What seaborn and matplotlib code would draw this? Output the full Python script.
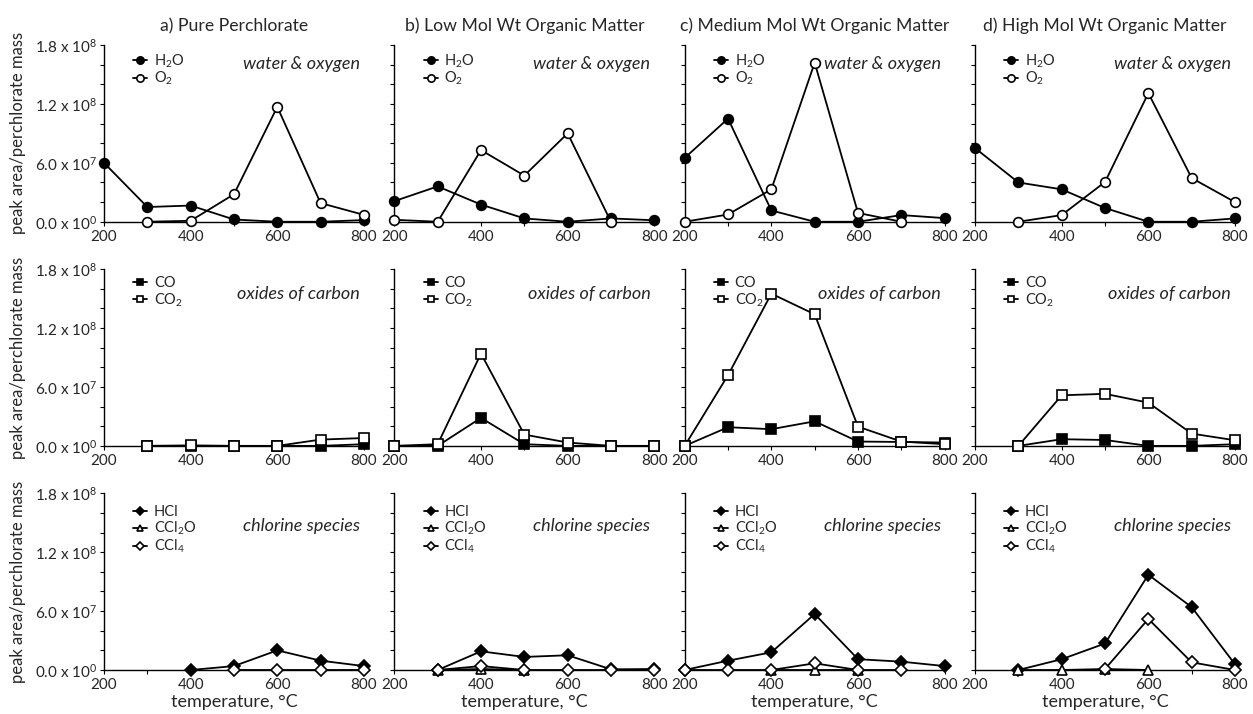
import numpy as np
import matplotlib
matplotlib.use("Agg")
import matplotlib.pyplot as plt
import seaborn as sns
from matplotlib.ticker import FixedLocator, FixedFormatter, MultipleLocator

nan = np.nan
temps = [200, 300, 400, 500, 600, 700, 800]
panel_titles = ["a) Pure Perchlorate", "b) Low Mol Wt Organic Matter",
                "c) Medium Mol Wt Organic Matter", "d) High Mol Wt Organic Matter"]
row_titles = ["water & oxygen", "oxides of carbon", "chlorine species"]
ytick_values = [0, 6.0e7, 1.2e8, 1.8e8]
ytick_labels = ["0.0 x 10$^{0}$", "6.0 x 10$^{7}$", "1.2 x 10$^{8}$", "1.8 x 10$^{8}$"]
xtick_values = [200, 400, 600, 800]
xtick_labels = ["200", "400", "600", "800"]
ylabel_text = "peak area/perchlorate mass"
xlabel_text = "temperature, °C"

# row 1: water & oxygen
h2o_a = [6.0e7, 1.5e7, 1.65e7, 2.3e6, 0, 0, 1.7e6]
o2_a = [nan, 0, 1.0e6, 2.8e7, 1.17e8, 1.9e7, 7.0e6]
h2o_b = [2.1e7, 3.6e7, 1.75e7, 3.4e6, 0, 3.4e6, 1.5e6]
o2_b = [2.0e6, 0, 7.3e7, 4.7e7, 9.0e7, 0, nan]
h2o_c = [6.5e7, 1.05e8, 1.15e7, 0, 0, 6.8e6, 3.7e6]
o2_c = [0, 7.4e6, 3.3e7, 1.62e8, 9.0e6, 0, nan]
h2o_d = [7.5e7, 4.0e7, 3.3e7, 1.4e7, 0, 0, 3.4e6]
o2_d = [nan, 0, 6.8e6, 4.05e7, 1.31e8, 4.45e7, 2.0e7]

# row 2: oxides of carbon
co_a = [nan, 0, 0, 0, 0, 0, 1.7e6]
co2_a = [nan, 0, 5.0e5, 0, 0, 6.4e6, 8.0e6]
co_b = [0, 0, 2.85e7, 1.7e6, 0, 0, 0]
co2_b = [0, 1.7e6, 9.4e7, 1.15e7, 3.4e6, 0, 0]
co_c = [0, 1.9e7, 1.7e7, 2.5e7, 4.4e6, 4.0e6, 3.4e6]
co2_c = [0, 7.2e7, 1.55e8, 1.34e8, 1.96e7, 4.4e6, 1.7e6]
co_d = [nan, 0, 6.8e6, 6.0e6, 0, 0, 1.7e6]
co2_d = [nan, 0, 5.15e7, 5.3e7, 4.4e7, 1.25e7, 5.7e6]

# row 3: chlorine species
hcl_a = [nan, nan, 0, 4.0e6, 2.0e7, 9.5e6, 4.0e6]
ccl2o_a = [nan, nan, nan, nan, nan, nan, nan]
ccl4_a = [nan, nan, nan, 0, 0, 0, 0]
hcl_b = [nan, 0, 1.9e7, 1.33e7, 1.5e7, 7.0e5, 1.0e6]
ccl2o_b = [nan, 0, 1.0e6, 0, nan, nan, nan]
ccl4_b = [nan, 0, 4.0e6, 0, 0, 0, 0]
hcl_c = [0, 9.5e6, 1.8e7, 5.7e7, 1.1e7, 8.5e6, 4.0e6]
ccl2o_c = [nan, nan, 0, 0, 0, nan, nan]
ccl4_c = [0, 0, 0, 6.8e6, 0, 0, nan]
hcl_d = [nan, 0, 1.1e7, 2.7e7, 9.7e7, 6.4e7, 5.8e6]
ccl2o_d = [nan, 0, 0, 1.0e6, 0, nan, nan]
ccl4_d = [nan, nan, nan, 1.0e6, 5.2e7, 7.8e6, 0]

rows = [
    [("H$_2$O", "o", "black"), ("O$_2$", "o", "white")],
    [("CO", "s", "black"), ("CO$_2$", "s", "white")],
    [("HCl", "D", "black"), ("CCl$_2$O", "^", "white"), ("CCl$_4$", "D", "white")],
]
panel_data = {
    (0, 0): [h2o_a, o2_a], (0, 1): [h2o_b, o2_b], (0, 2): [h2o_c, o2_c], (0, 3): [h2o_d, o2_d],
    (1, 0): [co_a, co2_a], (1, 1): [co_b, co2_b], (1, 2): [co_c, co2_c], (1, 3): [co_d, co2_d],
    (2, 0): [hcl_a, ccl2o_a, ccl4_a], (2, 1): [hcl_b, ccl2o_b, ccl4_b],
    (2, 2): [hcl_c, ccl2o_c, ccl4_c], (2, 3): [hcl_d, ccl2o_d, ccl4_d],
}

# per-row placement (axes fractions)
legend_top = [1.0, 1.0, 0.975]
legend_spacing = [0.0, 0.05, 0.05]
note_y = [0.89, 0.86, 0.815]

sns.set_style("ticks")
plt.rcParams["font.family"] = ["Lato", "DejaVu Sans"]
plt.rcParams["mathtext.fontset"] = "custom"
plt.rcParams["mathtext.rm"] = "Lato"
plt.rcParams["mathtext.it"] = "Lato:italic"
plt.rcParams["mathtext.bf"] = "Lato:bold"

fig, axes = plt.subplots(3, 4, figsize=(12.53, 7.14), dpi=100)
fig.subplots_adjust(left=104 / 1253, right=1235 / 1253, top=1 - 45 / 714,
                    bottom=1 - 670 / 714, wspace=0.117, hspace=0.268)

for r in range(3):
    for c in range(4):
        ax = axes[r, c]
        series = panel_data[(r, c)]
        handles = []
        for (label, marker, face), vals in zip(rows[r], series):
            x = [t for t, v in zip(temps, vals) if not np.isnan(v)]
            y = [v for v in vals if not np.isnan(v)]
            ms = {"o": 7.0, "s": 6.5, "D": 5.8, "^": 6.5}[marker]
            if len(x) > 0:
                sns.lineplot(x=x, y=y, ax=ax, color="black", marker=marker,
                             markerfacecolor=face, markeredgecolor="black",
                             markeredgewidth=1.2, markersize=ms, linewidth=1.3,
                             clip_on=False, errorbar=None, sort=False, zorder=3)
                h = ax.lines[-1]
            else:
                h, = ax.plot([], [], color="black", marker=marker, markerfacecolor=face,
                             markeredgecolor="black", markeredgewidth=1.2,
                             markersize=ms, linewidth=1.3)
            handles.append(h)
        labels = [s[0] for s in rows[r]]
        ax.legend(handles, labels, loc="upper left", bbox_to_anchor=(0.085, legend_top[r]),
                  frameon=False, handlelength=0.95, handletextpad=0.45,
                  labelspacing=legend_spacing[r], borderpad=0.0, fontsize=10.5,
                  numpoints=1, markerscale=0.75)
        ax.text(0.985, note_y[r], row_titles[r], transform=ax.transAxes, ha="right",
                va="center", fontsize=13, style="italic")
        ax.set_xlim(200, 800)
        ax.set_ylim(0, 1.8e8)
        ax.xaxis.set_major_locator(FixedLocator(xtick_values))
        ax.xaxis.set_major_formatter(FixedFormatter(xtick_labels))
        ax.xaxis.set_minor_locator(MultipleLocator(100))
        ax.yaxis.set_major_locator(FixedLocator(ytick_values))
        ax.yaxis.set_major_formatter(FixedFormatter(ytick_labels))
        ax.yaxis.set_minor_locator(MultipleLocator(2e7))
        ax.tick_params(which="both", direction="out", length=3, width=0.8,
                       color="black", labelsize=11, pad=2)
        ax.tick_params(axis="x", which="major", pad=3)
        for s in ["top", "right"]:
            ax.spines[s].set_visible(False)
        for s in ["left", "bottom"]:
            ax.spines[s].set_color("black")
            ax.spines[s].set_linewidth(1.0)
        ax.set_xlabel("")
        ax.set_ylabel("")
        if c == 0:
            ax.set_ylabel(ylabel_text, fontsize=12, labelpad=6)
        else:
            ax.tick_params(axis="y", labelleft=False)
        if r == 0:
            ax.set_title(panel_titles[c], fontsize=12.7, pad=10)
        if r == 2:
            ax.set_xlabel(xlabel_text, fontsize=13, labelpad=1)

fig.savefig("out.png", dpi=100, facecolor="white")
